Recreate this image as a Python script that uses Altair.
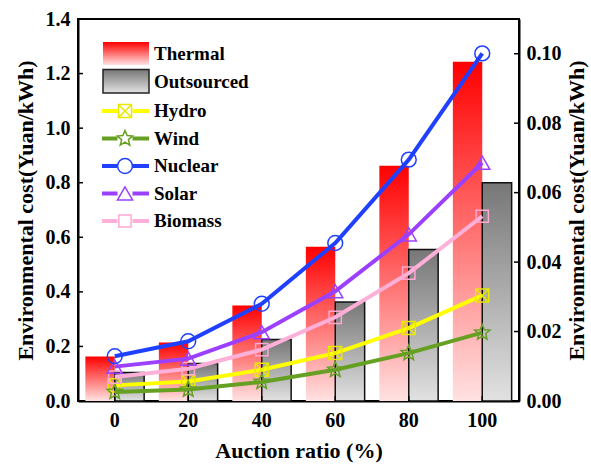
import altair as alt
import pandas as pd

# ---------------- data ----------------
ratios = [0, 20, 40, 60, 80, 100]
thermal = [0.163, 0.214, 0.35, 0.565, 0.862, 1.243]
outsourced = [0.104, 0.137, 0.225, 0.363, 0.555, 0.800]
hydro = [0.0045, 0.0056, 0.0090, 0.0138, 0.0210, 0.0304]
wind = [0.0026, 0.0033, 0.0055, 0.0090, 0.0138, 0.0197]
nuclear = [0.0129, 0.0172, 0.0280, 0.0455, 0.0695, 0.1001]
solar = [0.0099, 0.0122, 0.0198, 0.0316, 0.0480, 0.0686]
biomass = [0.0069, 0.0093, 0.0148, 0.0241, 0.0368, 0.0532]
left_ticks = [0.0, 0.2, 0.4, 0.6, 0.8, 1.0, 1.2, 1.4]
right_ticks = [0.0, 0.02, 0.04, 0.06, 0.08, 0.10]

W, H = 441, 382
FONT = "Times New Roman, Liberation Serif, DejaVu Serif, serif"

bars = pd.DataFrame({
    "ratio": ratios * 2,
    "series": ["Thermal"] * 6 + ["Outsourced"] * 6,
    "value": thermal + outsourced,
})

red_grad = alt.Gradient(gradient="linear",
                        stops=[alt.GradientStop(offset=0, color="#ff0000"),
                               alt.GradientStop(offset=1, color="#ffe2e2")],
                        x1=0, x2=0, y1=0, y2=1)
gray_grad = alt.Gradient(gradient="linear",
                         stops=[alt.GradientStop(offset=0, color="#777777"),
                                alt.GradientStop(offset=1, color="#e2e2e2")],
                         x1=0, x2=0, y1=0, y2=1)

xenc = alt.X("ratio:O",
             scale=alt.Scale(paddingInner=0.2, paddingOuter=0.1),
             axis=alt.Axis(title="Auction ratio (%)", labelAngle=0,
                           labelPadding=9, titlePadding=10))
xoff = alt.XOffset("series:N", sort=["Thermal", "Outsourced"],
                   scale=alt.Scale(domain=["Thermal", "Outsourced"], paddingInner=0, paddingOuter=0))
left_scale = alt.Scale(domain=[0, 1.4], nice=False, zero=True)
right_scale = alt.Scale(domain=[0, 0.11], nice=False, zero=True)
left_axis = alt.Axis(orient="left", values=left_ticks, format=".1f",
                     title="Environmental cost(Yuan/kWh)",
                     labelPadding=8, titlePadding=8)
right_axis = alt.Axis(orient="right", values=right_ticks, format=".2f",
                      title="Environmental cost(Yuan/kWh)", titleAngle=270,
                      titleBaseline="top", labelPadding=7, titlePadding=5)

layers = []
base_bars = alt.Chart(bars)
layers.append(base_bars.transform_filter(alt.datum.series == "Thermal").mark_bar(fill=red_grad).encode(
    x=xenc, xOffset=xoff,
    y=alt.Y("value:Q", scale=left_scale, axis=left_axis),
))
layers.append(base_bars.transform_filter(alt.datum.series == "Outsourced").mark_bar(
    fill=gray_grad, stroke="#111111", strokeWidth=1.5).encode(
    x=xenc, xOffset=xoff,
    y=alt.Y("value:Q", scale=left_scale, axis=None),
))
layers.append(alt.Chart(pd.DataFrame({"v": left_ticks})).mark_rule(color="black", strokeWidth=1.5).encode(
    y=alt.Y("v:Q", scale=left_scale, axis=None), x=alt.value(0), x2=alt.value(5)))
layers.append(alt.Chart(pd.DataFrame({"ratio": ratios})).mark_rule(color="black", strokeWidth=1.5).encode(
    x=xenc, y=alt.value(H), y2=alt.value(H - 5)))

# ---------------- lines ----------------
HYDRO_SHAPE = "M-1,-1L1,-1L1,1L-1,1Z M-1,-1L1,1 M1,-1L-1,1"
STAR_SHAPE = ("M0,-1L0.26,-0.36L0.951,-0.309L0.42,0.14L0.588,0.809L0,0.44"
              "L-0.588,0.809L-0.42,0.14L-0.951,-0.309L-0.26,-0.36Z")
series_defs = [
    ("Hydro", hydro, "#ffff00", "#e8e800", HYDRO_SHAPE, 170),
    ("Wind", wind, "#66a022", "#66a022", STAR_SHAPE, 260),
    ("Biomass", biomass, "#ffb0d8", "#ffa8d4", "square", 150),
    ("Solar", solar, "#9b40ff", "#9b40ff", "triangle-up", 230),
    ("Nuclear", nuclear, "#2040ff", "#2040ff", "circle", 220),
]

for i, (name, vals, lc, mc, shape, size) in enumerate(series_defs):
    df = pd.DataFrame({"ratio": ratios, "value": vals})
    yax = right_axis if name == "Nuclear" else None
    layers.append(alt.Chart(df).mark_line(color=lc, strokeWidth=4).encode(
        x=xenc, y=alt.Y("value:Q", scale=right_scale, axis=yax)))
    layers.append(alt.Chart(df).mark_point(shape=shape, filled=False, stroke=mc, strokeWidth=1.5,
                                           size=size, opacity=1).encode(
        x=xenc, y=alt.Y("value:Q", scale=right_scale, axis=None)))

layers.append(alt.Chart(pd.DataFrame({"v": right_ticks})).mark_rule(color="black", strokeWidth=1.5).encode(
    y=alt.Y("v:Q", scale=right_scale, axis=None), x=alt.value(W - 5), x2=alt.value(W)))

# ---------------- legend ----------------
dummy = alt.Chart(pd.DataFrame({"a": [0]}))
layers.append(dummy.mark_rect(fill=red_grad).encode(
    x=alt.value(25), x2=alt.value(71), y=alt.value(23), y2=alt.value(46)))
layers.append(dummy.mark_rect(fill=gray_grad, stroke="#222222", strokeWidth=1.5).encode(
    x=alt.value(25), x2=alt.value(71), y=alt.value(50.5), y2=alt.value(74)))
for label, yy in [("Thermal", 34.5), ("Outsourced", 62.5)]:
    layers.append(dummy.mark_text(text=label, align="left", baseline="middle", font=FONT,
                                  fontWeight="bold", fontSize=19, color="black").encode(
        x=alt.value(76), y=alt.value(yy)))
leg_order = ["Hydro", "Wind", "Nuclear", "Solar", "Biomass"]
leg_y = [92, 119.5, 147, 174.5, 202]
defs = {d[0]: d for d in series_defs}
for name, yy in zip(leg_order, leg_y):
    _, _, lc, mc, shape, size = defs[name]
    layers.append(dummy.mark_rule(color=lc, strokeWidth=4).encode(
        x=alt.value(24), x2=alt.value(39.5), y=alt.value(yy)))
    layers.append(dummy.mark_rule(color=lc, strokeWidth=4).encode(
        x=alt.value(54.5), x2=alt.value(71), y=alt.value(yy)))
    layers.append(dummy.mark_point(shape=shape, filled=False, stroke=mc, strokeWidth=1.5,
                                   size=size, opacity=1).encode(x=alt.value(47), y=alt.value(yy)))
    layers.append(dummy.mark_text(text=name, align="left", baseline="middle", font=FONT,
                                  fontWeight="bold", fontSize=19, color="black").encode(
        x=alt.value(76), y=alt.value(yy)))

chart = alt.layer(*layers).resolve_scale(y="independent").properties(
    width=W, height=H,
    padding={"left": 78, "top": 19, "right": 72, "bottom": 65},
    autosize=alt.AutoSizeParams(type="none"),
    background="white",
).configure_view(stroke="black", strokeWidth=2).configure_axis(
    labelFont=FONT, labelFontWeight="bold", labelFontSize=20, labelColor="black",
    titleFont=FONT, titleFontWeight="bold", titleFontSize=22, titleColor="black",
    domainColor="black", domainWidth=2, ticks=False, grid=False,
)

chart.save("out.html", embed_options={"renderer": "svg", "actions": False})
